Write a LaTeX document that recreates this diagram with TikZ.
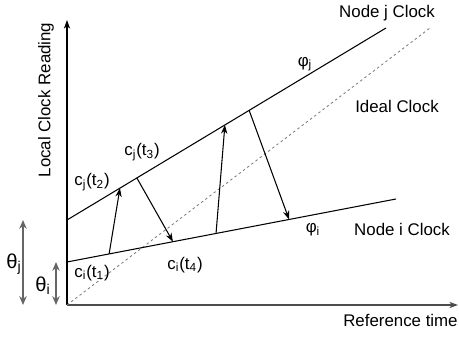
\documentclass[tikz,border=0pt]{standalone}
\usepackage{fontspec}
\setmainfont{Liberation Sans}
\usepackage{tikz}
\usetikzlibrary{arrows.meta, calc}

\begin{document}
\begin{tikzpicture}[
    x=0.02cm, y=0.02cm,
    >={Stealth[length=5pt, width=3.6pt]},
    lbl/.style={font=\fontsize{9.6}{11}\selectfont, inner sep=0pt},
    thlbl/.style={font=\fontsize{11.5}{13}\selectfont, inner sep=0pt},
    clockline/.style={line width=0.6pt},
    ideal/.style={line width=0.5pt, gray, dash pattern=on 1.4pt off 1.6pt},
    msg/.style={->, line width=0.6pt},
    offset/.style={{Stealth[length=5pt, width=4.2pt]}-{Stealth[length=5pt, width=4.2pt]}, line width=1.1pt, black!60}
]
    \useasboundingbox (-67,-32) rectangle (392,305);

    % Axes
    \coordinate (o) at (0,0);
    \coordinate (ytop) at (0,285);
    \coordinate (xend) at (391,0);
    \draw[->, line width=0.7pt] (o) -- (ytop);
    \draw[->, line width=0.7pt, black!70] (o) -- (xend);
    \node[lbl, rotate=90] (ylab) at (-21,205) {Local Clock Reading};
    \node[lbl, anchor=east] (xlab) at (391,-15) {Reference time};

    % Clocks
    \coordinate (j0) at (0,85);
    \coordinate (j1) at (319,277);
    \coordinate (i0) at (0,43);
    \coordinate (i1) at (329,106);
    \coordinate (id1) at (363,277);
    \draw[ideal] (o) -- (id1);
    \draw[clockline] (j0) -- (j1);
    \draw[clockline] (i0) -- (i1);

    \node[lbl] (nj) at (320,292) {Node j Clock};
    \node[lbl] (phij) at (238,241) {φ\textsubscript{j}};
    \node[lbl] (idl) at (330,199) {Ideal Clock};
    \node[lbl] (ni) at (335,76) {Node i Clock};
    \node[lbl] (phii) at (246,75) {φ\textsubscript{i}};

    % Messages
    \coordinate (m1a) at ($(i0)!0.128!(i1)$);
    \coordinate (m1b) at ($(j0)!0.166!(j1)$);
    \coordinate (m2a) at ($(j0)!0.219!(j1)$);
    \coordinate (m2b) at ($(i0)!0.322!(i1)$);
    \coordinate (m3a) at ($(i0)!0.453!(i1)$);
    \coordinate (m3b) at ($(j0)!0.495!(j1)$);
    \coordinate (m4a) at ($(j0)!0.571!(j1)$);
    \coordinate (m4b) at ($(i0)!0.675!(i1)$);
    \draw[msg] (m1a) -- (m1b);
    \draw[msg] (m2a) -- (m2b);
    \draw[msg] (m3a) -- (m3b);
    \draw[msg] (m4a) -- (m4b);

    \node[lbl] (t1) at (25,32) {c\textsubscript{i}(t\textsubscript{1})};
    \node[lbl] (t2) at (25,123) {c\textsubscript{j}(t\textsubscript{2})};
    \node[lbl] (t3) at (75,153) {c\textsubscript{j}(t\textsubscript{3})};
    \node[lbl] (t4) at (118,40) {c\textsubscript{i}(t\textsubscript{4})};

    % Offsets
    \coordinate (thj0) at (-44,0);
    \coordinate (thj1) at (-44,85);
    \coordinate (thi0) at (-11,0);
    \coordinate (thi1) at (-11,43);
    \draw[offset] (thj0) -- (thj1);
    \draw[offset] (thi0) -- (thi1);
    \node[thlbl] (thj) at (-53,41) {θ\textsubscript{j}};
    \node[thlbl] (thi) at (-24,19) {θ\textsubscript{i}};
\end{tikzpicture}
\end{document}
